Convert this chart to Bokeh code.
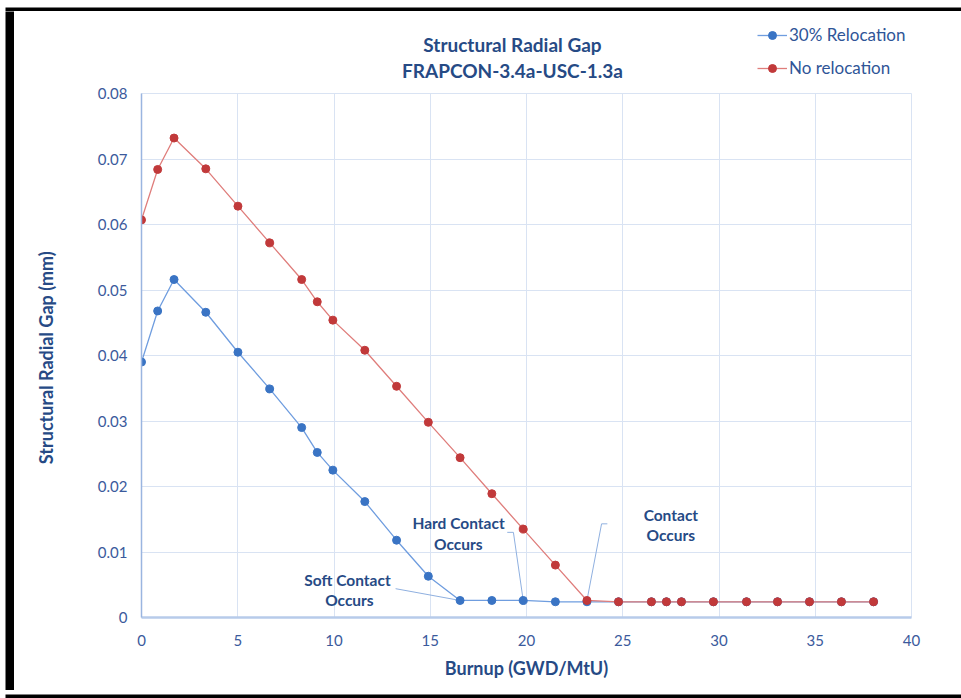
import numpy as np
from bokeh.plotting import figure
from bokeh.layouts import column, row
from bokeh.models import (Label, Legend, LegendItem, FixedTicker, PrintfTickFormatter,
                          Range1d, Spacer)
from bokeh.embed import file_html
from bokeh.resources import INLINE

# ---- data ----
burnup = [0, 0.84, 1.69, 3.34, 5.01, 6.66, 8.32, 9.13, 9.94, 11.6, 13.25, 14.9,
          16.55, 18.2, 19.83, 21.5, 23.14, 24.78, 26.49, 27.27, 28.05, 29.71,
          31.43, 33.04, 34.70, 36.36, 38.03]
relocation_30 = [0.0390, 0.0468, 0.0516, 0.0466, 0.0405, 0.0349, 0.0290, 0.0252,
                 0.0225, 0.0177, 0.0118, 0.0063, 0.0026, 0.0026, 0.0026, 0.0024,
                 0.0024, 0.0024, 0.0024, 0.0024, 0.0024, 0.0024, 0.0024, 0.0024,
                 0.0024, 0.0024, 0.0024]
no_relocation = [0.0607, 0.0684, 0.0732, 0.0685, 0.0628, 0.0572, 0.0516, 0.0482,
                 0.0454, 0.0408, 0.0353, 0.0298, 0.0244, 0.0189, 0.0135, 0.0080,
                 0.0026, 0.0024, 0.0024, 0.0024, 0.0024, 0.0024, 0.0024, 0.0024,
                 0.0024, 0.0024, 0.0024]
x_ticks = [0, 5, 10, 15, 20, 25, 30, 35, 40]
y_ticks = [0, 0.01, 0.02, 0.03, 0.04, 0.05, 0.06, 0.07, 0.08]
series_names = ["30% Relocation", "No relocation"]
title_lines = ["Structural Radial Gap", "FRAPCON-3.4a-USC-1.3a"]

# annotation leader lines and text anchors
soft_leader_x = [13.2, 16.55]
soft_leader_y = [0.0044, 0.0026]
hard_leader_x = [19.0, 19.32, 19.83]
hard_leader_y = [0.0130, 0.0130, 0.0026]
contact_leader_x = [24.2, 23.9, 23.14]
contact_leader_y = [0.0143, 0.0143, 0.0026]
notes = [
    ("Soft Contact", 10.7, 0.0058),
    ("Occurs", 10.8, 0.0027),
    ("Hard Contact", 16.47, 0.0144),
    ("Occurs", 16.46, 0.0112),
    ("Contact", 27.5, 0.0157),
    ("Occurs", 27.5, 0.0126),
]

FONT = "Lato"
NAVY = "#264a85"
TICK = "#3b5a9c"
BLUE_L = "#6f9ddf"
BLUE_M = "#3a74c4"
RED_L = "#df7d7b"
RED_M = "#c1393a"
GRID = "#d9e3f3"


def bar(w, h):
    b = figure(width=w, height=h, x_axis_type=None, y_axis_type=None, output_backend="svg",
               toolbar_location=None, min_border=0)
    b.background_fill_color = "black"
    b.border_fill_color = "black"
    b.outline_line_color = None
    return b


# ---- header (titles + legend); its frame lines up with the chart frame ----
hdr = figure(width=947, height=70, x_range=Range1d(0, 40), y_range=Range1d(70, 0),
             x_axis_type=None, y_axis_type=None, output_backend="svg",
             toolbar_location=None, min_border=0)
hdr.outline_line_color = None
hdr.background_fill_color = "white"
hdr.border_fill_color = "white"
for txt, hy in zip(title_lines, [33, 59]):
    hdr.add_layout(Label(x=19.27, y=hy, text=txt, text_align="center", text_baseline="middle",
                         text_font=FONT, text_font_size="19px", text_font_style="bold",
                         text_color=NAVY))
# legend keys: renderers with no drawable point (NaN), used only for the legend glyphs
nan = [np.nan]
hb_l = hdr.line(nan, nan, line_color=BLUE_L, line_width=1.3)
hb_s = hdr.scatter(nan, nan, size=8, fill_color=BLUE_M, line_color=BLUE_M)
hr_l = hdr.line(nan, nan, line_color=RED_L, line_width=1.3)
hr_s = hdr.scatter(nan, nan, size=8, fill_color=RED_M, line_color=RED_M)
legend = Legend(items=[LegendItem(label=series_names[0], renderers=[hb_l, hb_s]),
                       LegendItem(label=series_names[1], renderers=[hr_l, hr_s])],
                location=(616, 3))
legend.background_fill_alpha = 0
legend.border_line_color = None
legend.label_text_font = FONT
legend.label_text_font_size = "17px"
legend.label_text_color = "#2f5597"
legend.glyph_width = 30
legend.glyph_height = 20
legend.label_height = 20
legend.spacing = 12
legend.padding = 0
legend.margin = 0
legend.label_standoff = 2
hdr.add_layout(legend)

# ---- main chart ----
p = figure(width=947, height=609, x_range=Range1d(0, 40), y_range=Range1d(0, 0.08),
           output_backend="svg", toolbar_location=None,
           min_border_left=127, min_border_right=50, min_border_top=12, min_border_bottom=73)
p.background_fill_color = "white"
p.border_fill_color = "white"
p.outline_line_color = GRID

p.xaxis.ticker = FixedTicker(ticks=x_ticks)
p.yaxis.ticker = FixedTicker(ticks=y_ticks)
p.yaxis.formatter = PrintfTickFormatter(format="%g")
p.xgrid.ticker = FixedTicker(ticks=x_ticks)
p.ygrid.ticker = FixedTicker(ticks=y_ticks)
p.grid.grid_line_color = GRID
p.grid.grid_line_width = 1

for ax in (p.xaxis, p.yaxis):
    ax.major_tick_line_color = None
    ax.minor_tick_line_color = None
    ax.major_label_text_font = FONT
    ax.major_label_text_font_size = "15px"
    ax.major_label_text_color = TICK
    ax.axis_label_text_font = FONT
    ax.axis_label_text_font_size = "18px"
    ax.axis_label_text_font_style = "bold"
    ax.axis_label_text_color = NAVY
p.xaxis.axis_line_color = "#b7cbea"
p.xaxis.axis_line_width = 2.5
p.yaxis.axis_line_color = "#9ab5e0"
p.yaxis.axis_line_width = 1.5
p.xaxis.major_label_standoff = 11
p.yaxis.major_label_standoff = 8
p.xaxis.axis_label = "Burnup (GWD/MtU)"
p.yaxis.axis_label = "Structural Radial Gap  (mm)"
p.xaxis.axis_label_standoff = 8
p.yaxis.axis_label_standoff = 38

# leader lines
for lx, ly in ((soft_leader_x, soft_leader_y), (hard_leader_x, hard_leader_y),
               (contact_leader_x, contact_leader_y)):
    p.line(lx, ly, line_color="#8fb0e0", line_width=1)

p.line(burnup, relocation_30, line_color=BLUE_L, line_width=1.3)
p.scatter(burnup, relocation_30, size=8, fill_color=BLUE_M, line_color=BLUE_M)
p.line(burnup, no_relocation, line_color=RED_L, line_width=1.3)
p.scatter(burnup, no_relocation, size=8, fill_color=RED_M, line_color=RED_M)

for txt, x, y in notes:
    p.add_layout(Label(x=x, y=y, text=txt, text_align="center", text_baseline="middle",
                       text_font=FONT, text_font_size="15.5px", text_font_style="bold",
                       text_color=NAVY))

layout = column(
    Spacer(width=961, height=3),
    row(Spacer(width=5, height=8), bar(956, 8), spacing=0),
    row(Spacer(width=5, height=679), bar(9, 679), column(hdr, p, spacing=0), spacing=0),
    row(Spacer(width=5, height=8), bar(956, 8), spacing=0),
    spacing=0,
)
open("out.html", "w").write(file_html(layout, INLINE))
